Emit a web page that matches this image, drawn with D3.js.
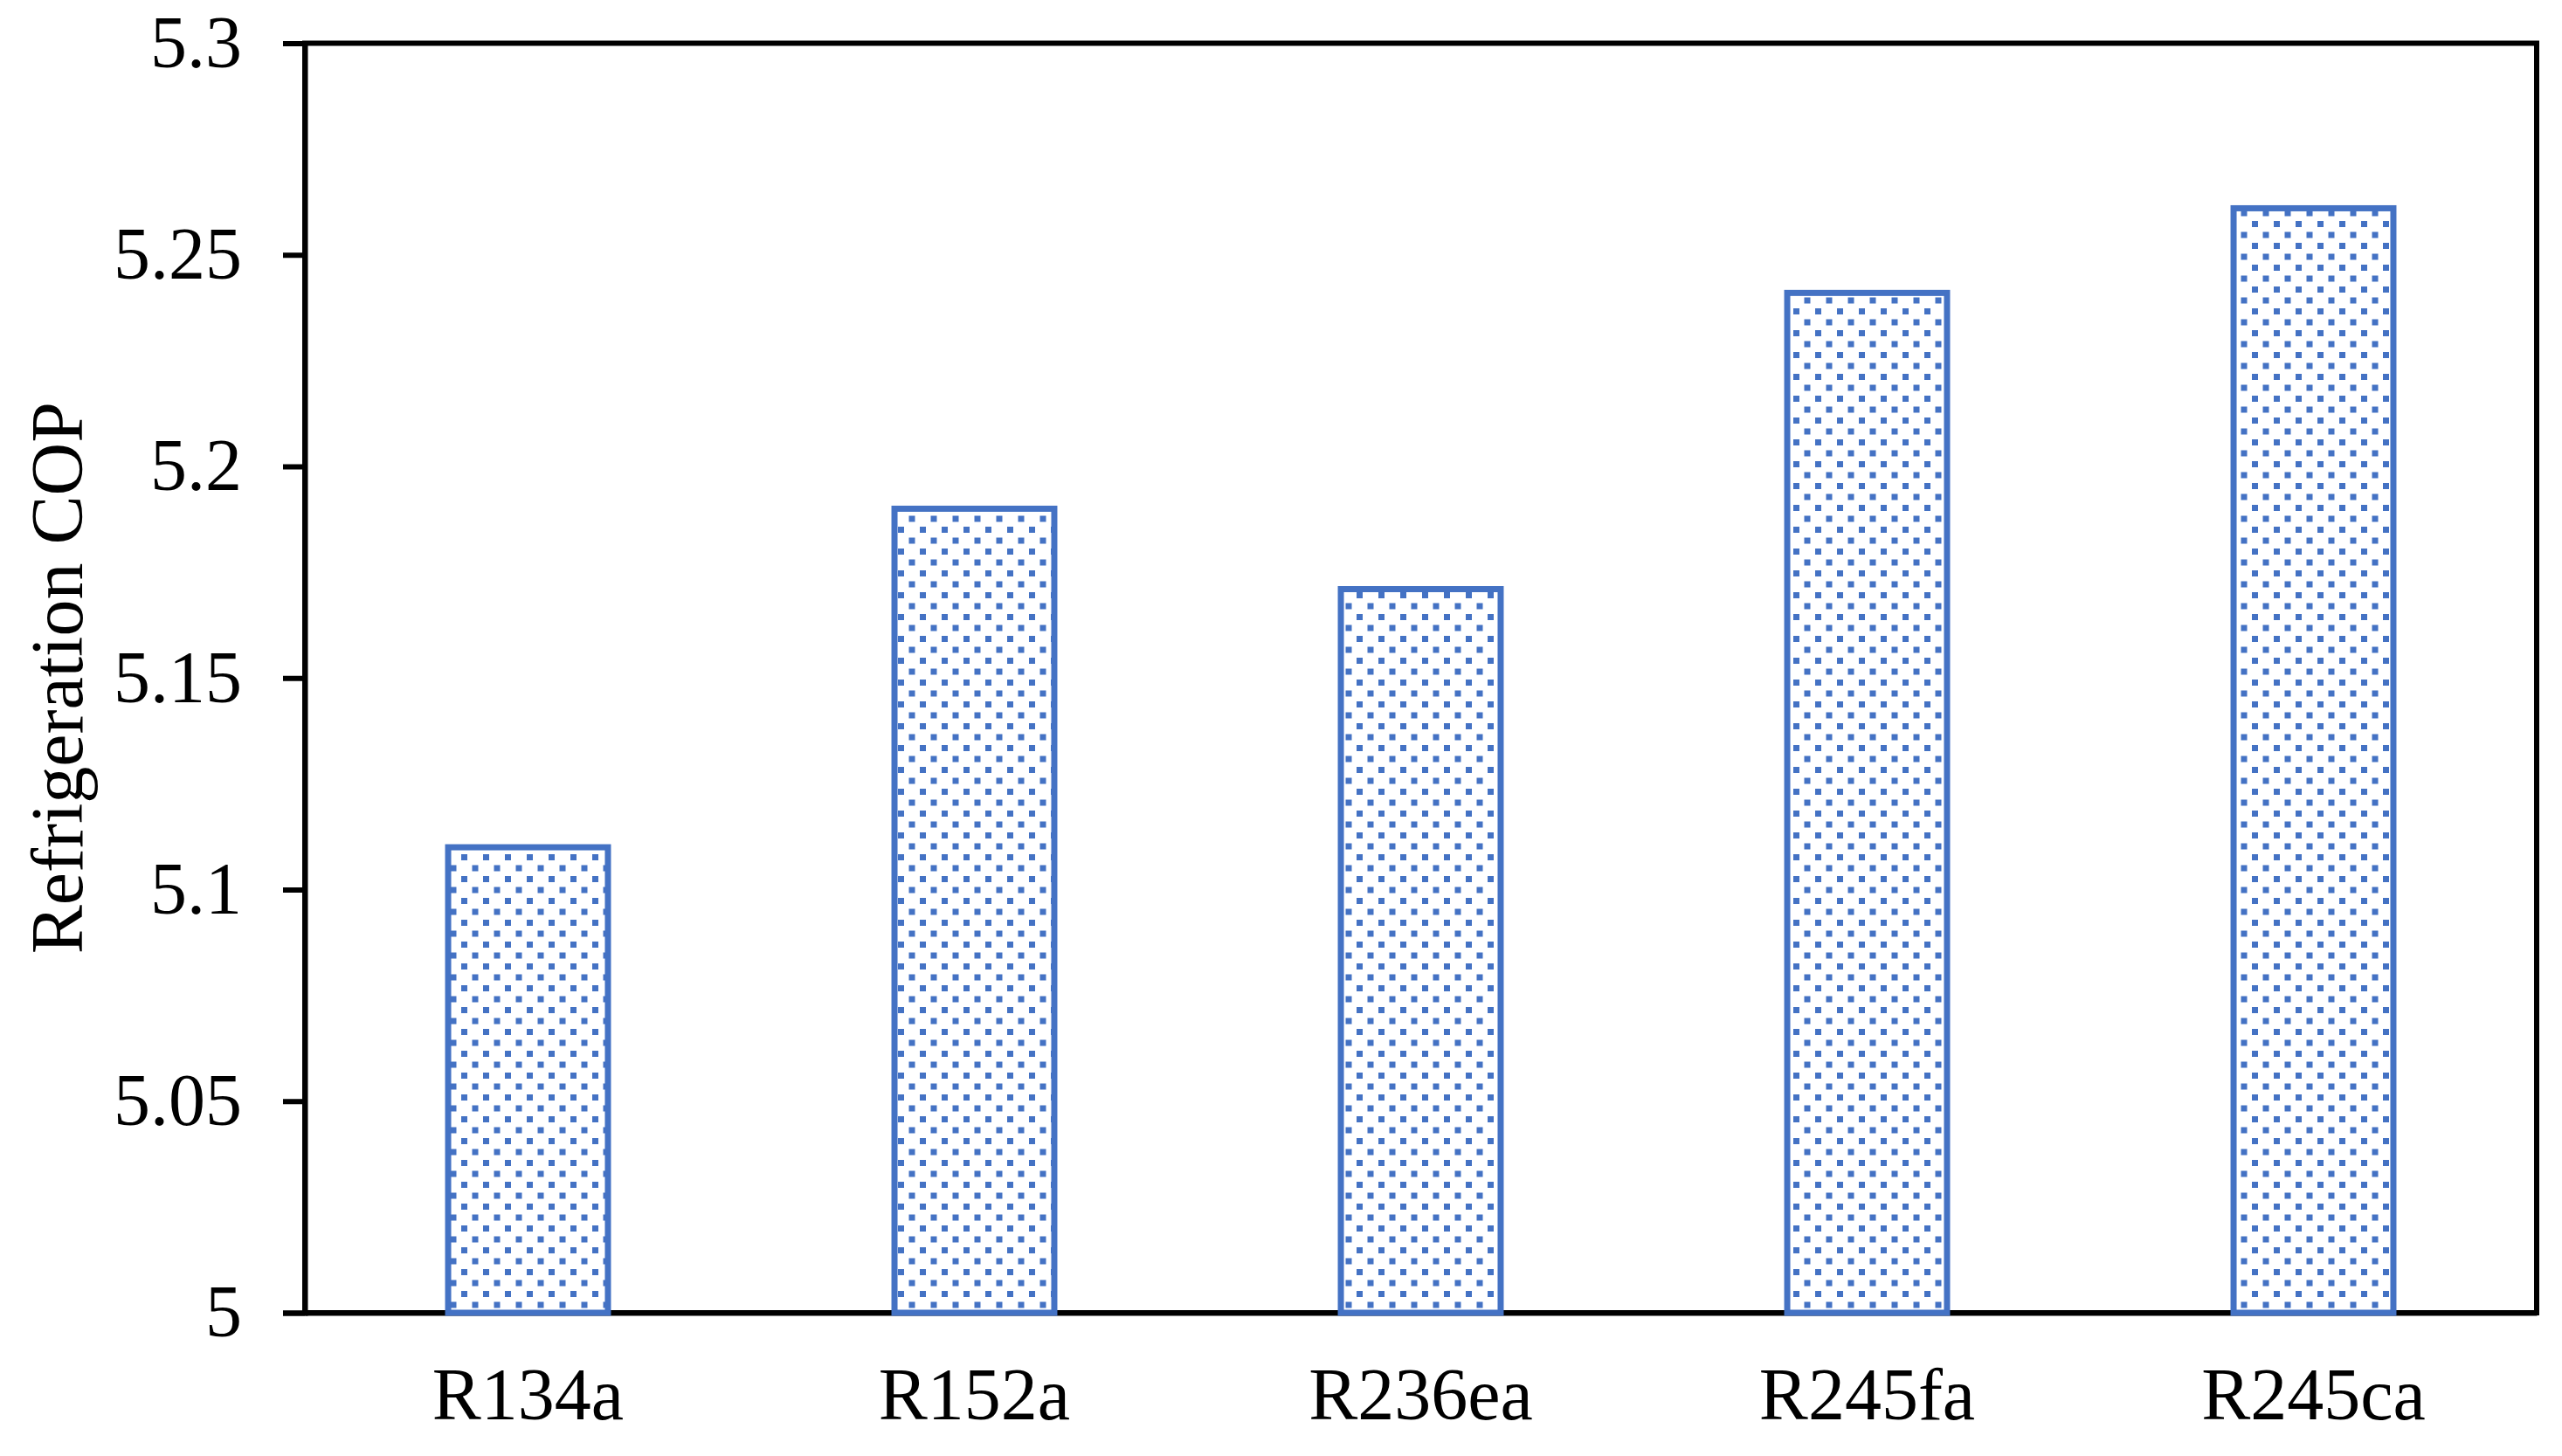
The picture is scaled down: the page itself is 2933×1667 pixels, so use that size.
<!DOCTYPE html>
<html><head><meta charset="utf-8">
<script src="https://cdn.jsdelivr.net/npm/d3@7"></script>
<style>html,body{margin:0;padding:0;background:#fff;}svg{display:block;}</style>
</head><body>
<script>
const categories = ["R134a", "R152a", "R236ea", "R245fa", "R245ca"];
const copValues = [5.11, 5.19, 5.171, 5.241, 5.261];
const yTicks = [5, 5.05, 5.1, 5.15, 5.2, 5.25, 5.3];
const yTickLabels = ["5", "5.05", "5.1", "5.15", "5.2", "5.25", "5.3"];
const yTitle = "Refrigeration COP";

const W = 2933, H = 1667;
const m = {left: 349, top: 49.5, right: 2904, bottom: 1503};
const blue = "#4472C4";
const font = "'Liberation Serif','Times New Roman',serif";

const svg = d3.select("body").append("svg").attr("width", W).attr("height", H);
const defs = svg.append("defs");
const pat = defs.append("pattern").attr("id", "dots").attr("patternUnits", "userSpaceOnUse")
  .attr("width", 25).attr("height", 25).attr("x", 3).attr("y", 3);
pat.append("rect").attr("x", 0).attr("y", 0).attr("width", 7).attr("height", 7).attr("fill", blue);
pat.append("rect").attr("x", 12.5).attr("y", 12.5).attr("width", 7).attr("height", 7).attr("fill", blue);

const x = d3.scaleBand().domain(categories).range([m.left, m.right]).paddingInner(0.642).paddingOuter(0.321);
const y = d3.scaleLinear().domain([5, 5.3]).range([m.bottom, m.top]);

// frame
svg.append("rect").attr("x", m.left).attr("y", m.top).attr("width", m.right - m.left).attr("height", m.bottom - m.top)
  .attr("fill", "none").attr("stroke", "#000").attr("stroke-width", 6);

// y axis
const yAxis = d3.axisLeft(y).tickValues(yTicks).tickFormat((d, i) => yTickLabels[i]).tickSize(25).tickPadding(47);
const gy = svg.append("g").attr("transform", `translate(${m.left},0)`).call(yAxis);
gy.select(".domain").attr("stroke", "#000").attr("stroke-width", 6);
gy.selectAll(".tick line").attr("stroke", "#000").attr("stroke-width", 6);
gy.selectAll(".tick text").attr("font-family", font).attr("font-size", 84).attr("fill", "#000").attr("dy", "0.32em");

// x axis
const xAxis = d3.axisBottom(x).tickSize(0).tickPadding(62);
const gx = svg.append("g").attr("transform", `translate(0,${m.bottom})`).call(xAxis);
gx.select(".domain").attr("stroke", "#000").attr("stroke-width", 6);
gx.selectAll(".tick text").attr("font-family", font).attr("font-size", 84).attr("fill", "#000");

// bars
svg.append("g").selectAll("rect").data(categories).join("rect")
  .attr("x", d => x(d)).attr("width", x.bandwidth())
  .attr("y", (d, i) => y(copValues[i])).attr("height", (d, i) => y(5) - y(copValues[i]))
  .attr("fill", "url(#dots)").attr("stroke", blue).attr("stroke-width", 7);

// y title
svg.append("text").attr("transform", `translate(65,${(m.top + m.bottom) / 2}) rotate(-90)`)
  .attr("text-anchor", "middle").attr("dy", "0.35em").attr("font-family", font).attr("font-size", 84)
  .attr("fill", "#000").text(yTitle);
</script>
</body></html>
